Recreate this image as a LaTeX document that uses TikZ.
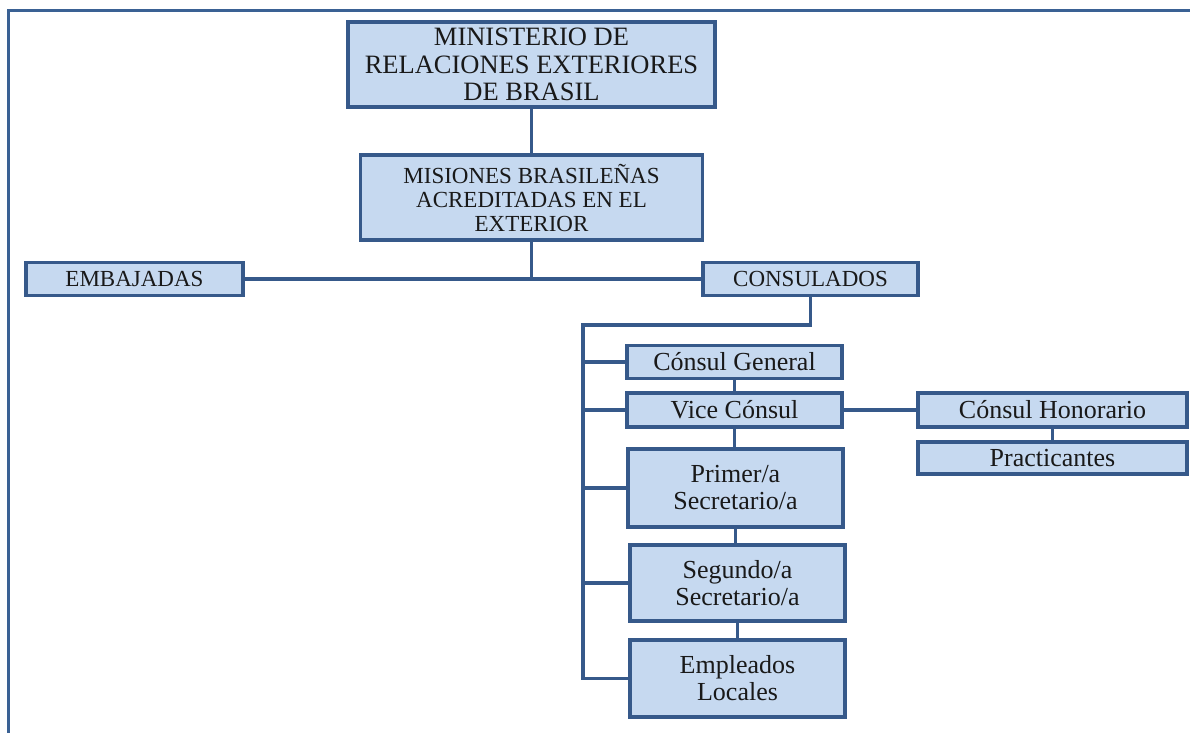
\documentclass[tikz,border=0pt]{standalone}
\usepackage{fontspec}
\setmainfont{Liberation Serif}
\usetikzlibrary{backgrounds}
\definecolor{boxfill}{HTML}{C6D9F0}
\definecolor{boxline}{HTML}{36598A}
\definecolor{framecol}{HTML}{3A6194}
\begin{document}
\begin{tikzpicture}[x=1pt,y=-1pt,
  box/.style={draw=boxline, fill=boxfill, line width=3.2pt, inner sep=0pt, align=center, text=black!90},
  caps/.style={box, font=\fontsize{23}{24}\selectfont},
  mixed/.style={box, font=\fontsize{26}{27}\selectfont},
  conn/.style={draw=boxline, line width=3.6pt},
  frame/.style={draw=framecol, line width=3pt}]
\useasboundingbox (0,0) rectangle (1190,732);
\draw[frame] (1192,10) -- (8,10) -- (8,734);

\node[box, font=\fontsize{26.5}{27.5}\selectfont, minimum width=367pt, minimum height=85pt] (min) at (531.5,64.5) {MINISTERIO DE\\RELACIONES EXTERIORES\\DE BRASIL};
\node[caps, minimum width=342pt, minimum height=85pt] (mis) at (531.5,197.5) {MISIONES BRASILE\~NAS\\ACREDITADAS EN EL\\EXTERIOR};
\node[caps, minimum width=217pt, minimum height=33pt] (emb) at (134.5,279) {EMBAJADAS};
\node[caps, minimum width=215pt, minimum height=33pt] (cons) at (810.5,279) {CONSULADOS};

\node[mixed, minimum width=215pt, minimum height=33pt] (cg) at (734.5,362) {C\'onsul General};
\node[mixed, minimum width=215pt, minimum height=34pt] (vc) at (734.5,410) {Vice C\'onsul};
\node[mixed, minimum width=215pt, minimum height=78pt] (pri) at (735.5,488) {Primer/a\\Secretario/a};
\node[mixed, minimum width=215pt, minimum height=76pt] (seg) at (737.5,583) {Segundo/a\\Secretario/a};
\node[mixed, minimum width=215pt, minimum height=77pt] (emp) at (737.5,678.5) {Empleados\\Locales};
\node[mixed, minimum width=269pt, minimum height=34pt] (hon) at (1052.5,410) {C\'onsul Honorario};
\node[mixed, minimum width=269pt, minimum height=32pt] (pra) at (1052.5,458) {Practicantes};

\coordinate (bustop) at (583,325);
\coordinate (busbot) at (583,678.5);

\begin{scope}[on background layer]
\draw[conn] (min.south) -- (mis.north);
\draw[conn] (mis.south) -- (mis.south |- emb.east);
\draw[conn] (emb.east) -- (cons.west);
\draw[conn] (cons.south) -- (cons.south |- bustop) -- (bustop) -- (busbot) -- (emp.west);
\draw[conn] (bustop |- cg.west) -- (cg.west);
\draw[conn] (bustop |- vc.west) -- (vc.west);
\draw[conn] (bustop |- pri.west) -- (pri.west);
\draw[conn] (bustop |- seg.west) -- (seg.west);
\draw[conn] (cg.south) -- (cg.south |- vc.north);
\draw[conn] (vc.south) -- (vc.south |- pri.north);
\draw[conn] (pri.south) -- (pri.south |- seg.north);
\draw[conn] (seg.south) -- (seg.south |- emp.north);
\draw[conn] (vc.east) -- (hon.west);
\draw[conn] (hon.south) -- (pra.north);
\end{scope}
\end{tikzpicture}
\end{document}
